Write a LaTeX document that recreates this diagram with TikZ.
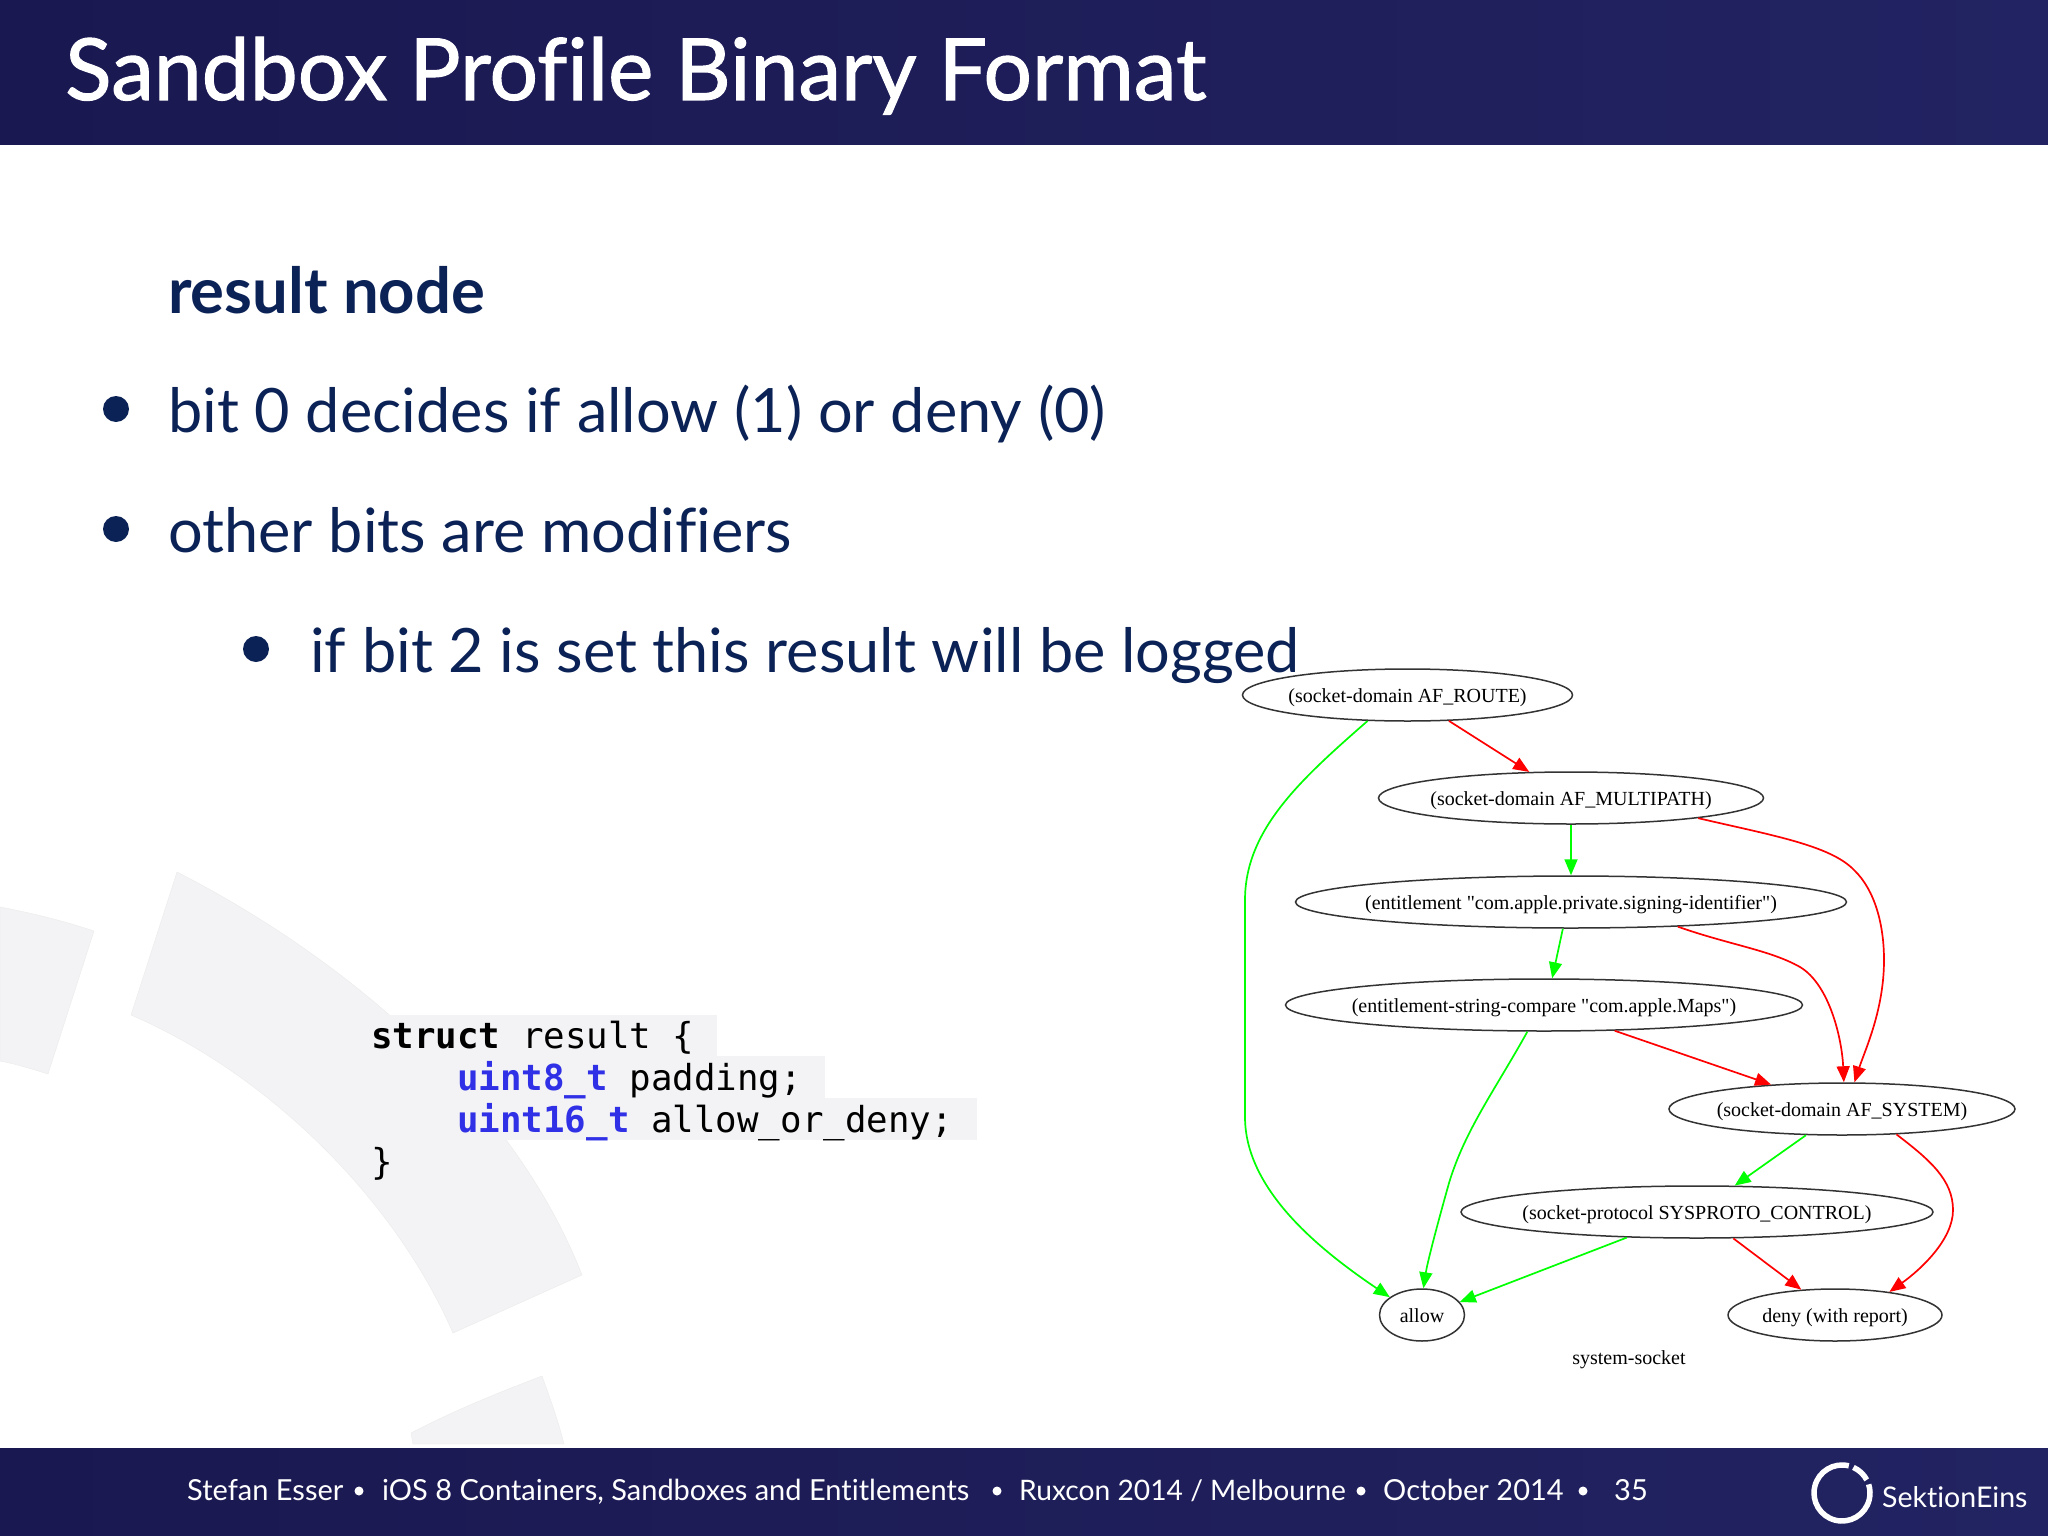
\documentclass[tikz,border=0pt]{standalone}
\usepackage{fontspec}
\usepackage{tikz}
\setmainfont{Lato}[Ligatures=NoCommon]
\newfontfamily\titlefont[FakeBold=1.2,Ligatures=NoCommon]{Lato}
\newfontfamily\graphfont{Liberation Serif}
\newfontfamily\codefont{DejaVu Sans Mono}
\providecommand{\glabel}[1]{\makebox[0pt]{#1}}
\definecolor{banddark}{HTML}{1A1850}
\definecolor{bandlight}{HTML}{222362}
\definecolor{bodyblue}{HTML}{0B2256}
\definecolor{wedgegrey}{HTML}{F3F3F5}
\definecolor{typeblue}{HTML}{3030E6}
\usetikzlibrary{arrows.meta,shapes.geometric}
\tikzset{
  band/.style={left color=banddark,right color=bandlight},
  gnode/.style={draw=black!80,line width=1.5pt,ellipse,inner sep=0pt,minimum height=52pt,text height=14pt,text depth=0pt,font=\graphfont\fontsize{20}{24}\selectfont},
  yes/.style={draw=green,line width=1.7pt,-{Triangle[length=16pt,width=13pt,fill=green]}},
  no/.style={draw=red,line width=1.7pt,-{Triangle[length=16pt,width=13pt,fill=red]}},
  wedge/.style={fill=wedgegrey,draw=black!8,line width=0.4pt},
  bodytext/.style={anchor=base west,inner sep=0pt,text=bodyblue,font=\fontsize{61.2}{70}\selectfont},
  bulletdot/.style={circle,fill=bodyblue,minimum size=26pt,inner sep=0pt},
  codeline/.style={anchor=base west,inner sep=0pt,font=\codefont\fontsize{35.8}{42}\selectfont},
  foottext/.style={anchor=base west,inner sep=0pt,text=white,font=\fontsize{29}{34}\selectfont},
}
\begin{document}
\begin{tikzpicture}[x=1pt,y=-1pt]
\useasboundingbox (0,0) rectangle (2048,1536);
% Drawing bands
\shade[band] (0,0) rectangle (2048,145);
\shade[band] (0,1448) rectangle (2048,1536);
% Drawing wedges
\filldraw[wedge] (177,872) .. controls (330,950) and (510,1090) .. (582,1275) -- (453,1333) .. controls (395,1200) and (270,1075) .. (131,1015) -- cycle;
\filldraw[wedge] (0,907) .. controls (32,913) and (64,921) .. (94,931) -- (48,1074) .. controls (32,1069) and (16,1064) .. (0,1061) -- cycle;
\filldraw[wedge] (542,1376) .. controls (550,1398) and (558,1420) .. (564,1444) -- (413,1444) -- (411,1433) .. controls (455,1410) and (500,1392) .. cycle;
% Done with wedges; drawing slide texts
\node[anchor=base west,inner sep=0pt,text=white,font=\titlefont\fontsize{85.8}{90}\selectfont] (title) at (65,100) {Sandbox Profile Binary Format};
\node[bodytext,font=\bfseries\fontsize{63.4}{70}\selectfont] (head) at (168,313) {result node};
\node[bodytext] (first) at (168,432.5) {bit 0 decides if allow (1) or deny (0)};
\node[bodytext] (second) at (168,552.5) {other bits are modifiers};
\node[bodytext] (third) at (310,672.5) {if bit 2 is set this result will be logged};
\node[bulletdot] (dota) at (116,409) {};
\node[bulletdot] (dotb) at (116,529) {};
\node[bulletdot] (dotc) at (256,649) {};
% Code block
\fill[wedgegrey] (371,1015) rectangle (717,1056);
\fill[wedgegrey] (371,1056) rectangle (825,1098);
\fill[wedgegrey] (371,1098) rectangle (977,1140);
\node[codeline] (lineone) at (371,1048) {\textbf{struct} result \{};
\node[codeline] (linetwo) at (457,1090) {\textcolor{typeblue}{\textbf{uint8\_t}} padding;};
\node[codeline] (linethree) at (457,1132) {\textcolor{typeblue}{\textbf{uint16\_t}} allow\_or\_deny;};
\node[codeline] (linefour) at (371,1174) {\}};
% Drawing graph nodes
\node[gnode,minimum width=330pt] (route) at (1407.5,695) {\glabel{(socket-domain AF\_ROUTE)}};
\node[gnode,minimum width=385pt] (multipath) at (1571,798) {\glabel{(socket-domain AF\_MULTIPATH)}};
\node[gnode,minimum width=551pt] (signing) at (1571,902) {\glabel{(entitlement "com.apple.private.signing-identifier")}};
\node[gnode,minimum width=517pt] (maps) at (1544,1005) {\glabel{(entitlement-string-compare "com.apple.Maps")}};
\node[gnode,minimum width=346pt] (system) at (1842,1109) {\glabel{(socket-domain AF\_SYSTEM)}};
\node[gnode,minimum width=472pt] (control) at (1697,1212) {\glabel{(socket-protocol SYSPROTO\_CONTROL)}};
\node[gnode,minimum width=85pt] (allow) at (1422,1315) {\glabel{allow}};
\node[gnode,minimum width=214pt] (deny) at (1835,1315) {\glabel{deny (with report)}};
\node[inner sep=0pt,font=\graphfont\fontsize{20}{24}\selectfont] (caption) at (1629,1360) {system-socket};
% Done with graph nodes; drawing edges
\draw[no] (route.328) -- (multipath.148);
\draw[yes] (route.213) .. controls (1300,780) and (1245,830) .. (1245,900) -- (1245,1117) .. controls (1245,1190) and (1320,1250) .. (allow.151);
\draw[yes] (multipath.south) -- (signing.north);
\draw[no] (multipath.351) .. controls (1770,835) and (1830,845) .. (1854,870) .. controls (1875,890) and (1884,925) .. (1884,960) .. controls (1884,1010) and (1865,1050) .. (system.65);
\draw[no] (signing.347) .. controls (1730,945) and (1770,950) .. (1800,967) .. controls (1830,985) and (1842,1040) .. (system.86);
\draw[yes] (signing.253) -- (maps.73);
\draw[no] (maps.340) -- (system.161);
\draw[yes] (maps.238) .. controls (1495,1090) and (1465,1130) .. (1449,1183) .. controls (1433,1240) and (1427,1265) .. (allow.87);
\draw[yes] (system.216) -- (control.35);
\draw[no] (system.335) .. controls (1930,1160) and (1953,1180) .. (1953,1210) .. controls (1953,1240) and (1920,1270) .. (deny.23);
\draw[yes] (control.200) -- (allow.19);
\draw[no] (control.324) -- (deny.143);
% Done with edges; drawing footer
\foreach \px/\txt/\nm in {187/Stefan Esser/fa,382/{iOS 8 Containers, Sandboxes and Entitlements}/fb,1383/October 2014/fd,1614/35/fe}
  \node[foottext] (\nm) at (\px,1500) {\txt};
\node[foottext,font=\fontsize{28.2}{34}\selectfont] (fc) at (1019,1500) {Ruxcon 2014 / Melbourne};
\foreach \px/\nm in {359/ba,997/bb,1361/bc,1583/bd}
  \node[circle,fill=white,minimum size=9pt,inner sep=0pt] (\nm) at (\px,1491) {};
% Logo
\draw[white,line width=5.5pt] (1842,1493) ++(76:28pt) arc[start angle=76,end angle=378,radius=28pt];
\draw[white,line width=5.5pt] (1842,1493) ++(66:28pt) arc[start angle=66,end angle=28,radius=28pt];
\node[anchor=base west,inner sep=0pt,text=white,font=\fontsize{28.5}{34}\selectfont] (brand) at (1882,1507) {SektionEins};
\end{tikzpicture}
\end{document}
